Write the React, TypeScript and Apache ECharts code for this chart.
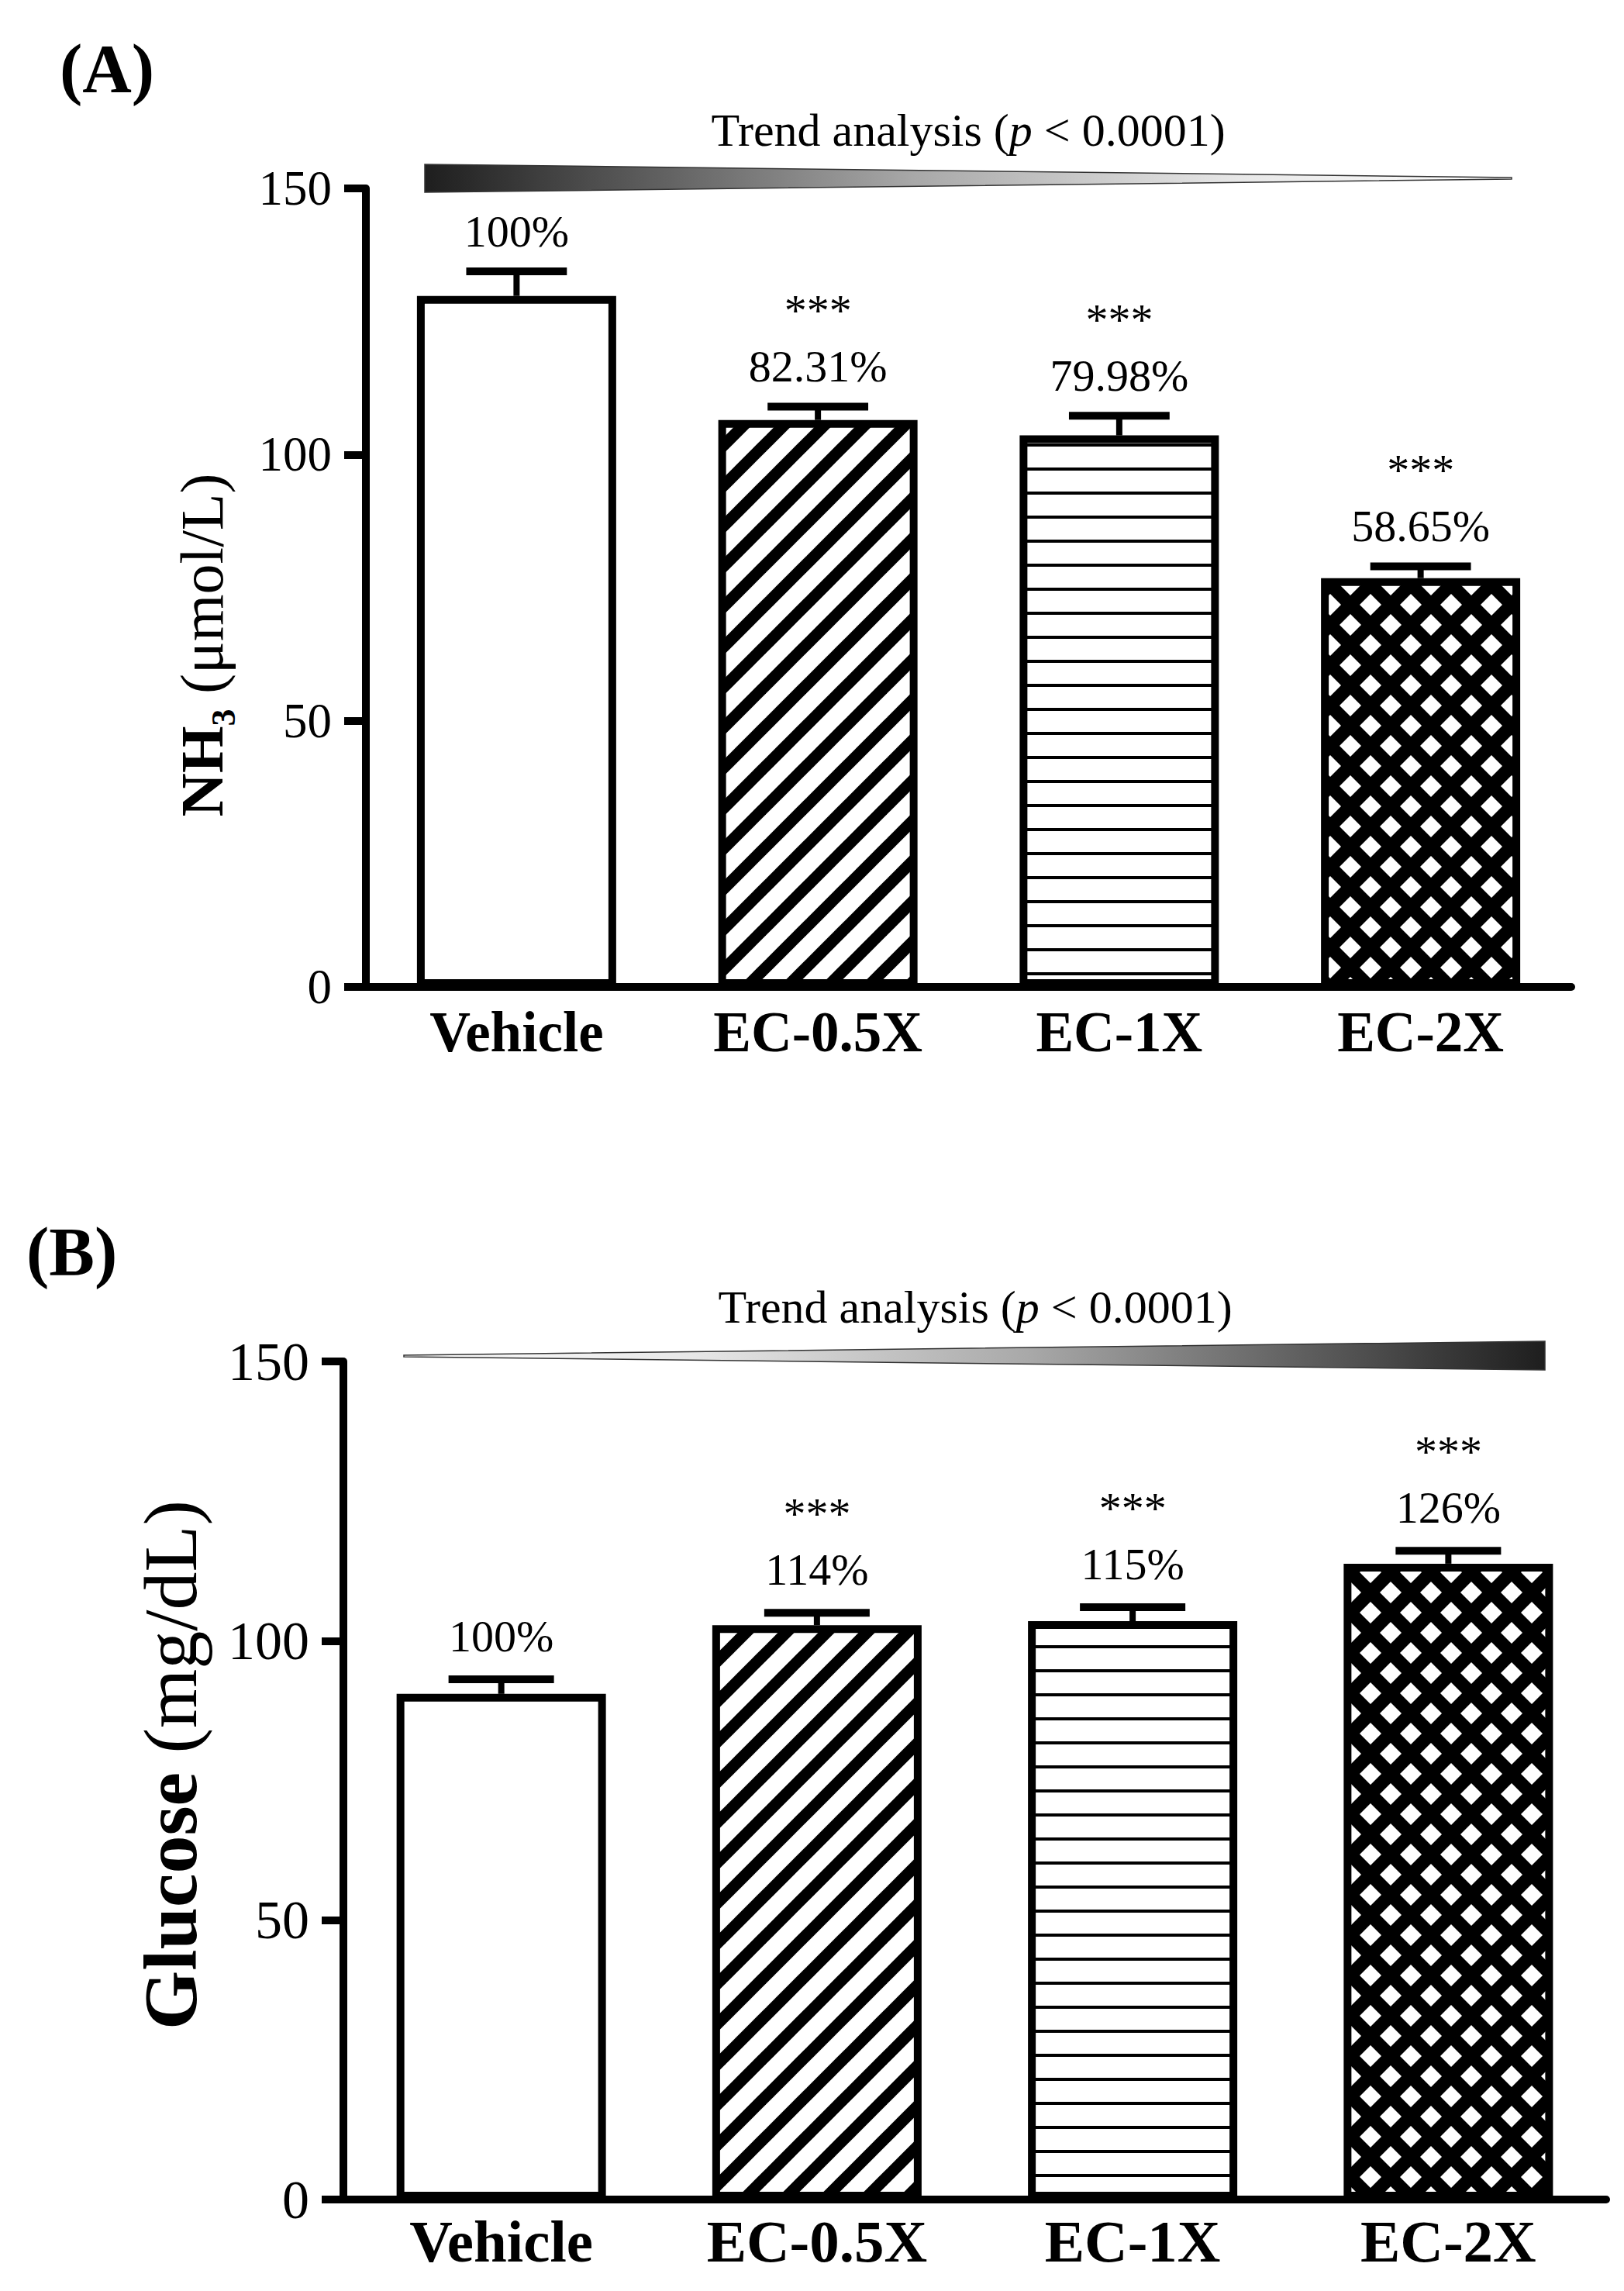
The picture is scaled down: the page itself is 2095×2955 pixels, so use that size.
import React, { useEffect, useRef } from "react";
import * as echarts from "echarts";

const categories = ["Vehicle", "EC-0.5X", "EC-1X", "EC-2X"];

// Panel A: NH3 (umol/L), mean and SEM
const nh3Mean = [129.8, 106.5, 103.6, 76.8];
const nh3Sem = [4.6, 2.5, 3.7, 2.2];
const nh3Percent = ["100%", "82.31%", "79.98%", "58.65%"];

// Panel B: Glucose (mg/dL), mean and SEM
const glucoseMean = [90.5, 102.8, 103.5, 113.8];
const glucoseSem = [2.6, 2.2, 2.5, 2.3];
const glucosePercent = ["100%", "114%", "115%", "126%"];

const significance = ["", "***", "***", "***"];

// y axis: 0..150 step 50
const yMin = 0;
const yMax = 150;
const yStep = 50;

const fontFamily = "'Liberation Serif', 'Times New Roman', serif";

type PatternKind = "none" | "diagonal" | "horizontal" | "lattice";
const barPatterns: PatternKind[] = ["none", "diagonal", "horizontal", "lattice"];

// build a repeating fill for a bar
function makePattern(kind: PatternKind): any {
  if (kind === "none") return "#ffffff";
  const canvas = document.createElement("canvas");
  const ctx = canvas.getContext("2d") as CanvasRenderingContext2D;
  if (kind === "diagonal") {
    canvas.width = 52;
    canvas.height = 52;
    ctx.fillStyle = "#ffffff";
    ctx.fillRect(0, 0, 52, 52);
    ctx.strokeStyle = "#000000";
    ctx.lineWidth = 15;
    [-52, 0, 52].forEach((k) => {
      ctx.beginPath();
      ctx.moveTo(k - 12, 64);
      ctx.lineTo(k + 64, -12);
      ctx.stroke();
    });
  } else if (kind === "horizontal") {
    canvas.width = 8;
    canvas.height = 31;
    ctx.fillStyle = "#ffffff";
    ctx.fillRect(0, 0, 8, 31);
    ctx.fillStyle = "#000000";
    ctx.fillRect(0, 14, 8, 4);
  } else {
    canvas.width = 52;
    canvas.height = 52;
    ctx.fillStyle = "#000000";
    ctx.fillRect(0, 0, 52, 52);
    ctx.fillStyle = "#ffffff";
    const h = 14;
    [
      [26, 26],
      [0, 0],
      [52, 0],
      [0, 52],
      [52, 52],
    ].forEach(([cx, cy]) => {
      ctx.beginPath();
      ctx.moveTo(cx, cy - h);
      ctx.lineTo(cx + h, cy);
      ctx.lineTo(cx, cy + h);
      ctx.lineTo(cx - h, cy);
      ctx.closePath();
      ctx.fill();
    });
  }
  return {
    image: canvas.toDataURL(),
    repeat: "repeat",
    imageWidth: canvas.width,
    imageHeight: canvas.height,
  };
}

interface PanelLayout {
  left: number;
  top: number;
  width: number;
  height: number;
  barWidth: number;
  tickFont: number;
  catFont: number;
  catMargin: number;
  nameGap: number;
  namePadding: number[];
  pctOffset: number;
  name: string;
  rich: any;
}

const panelA: PanelLayout = {
  left: 472,
  top: 243,
  width: 1555,
  height: 1030,
  barWidth: 257,
  tickFont: 63,
  catFont: 73,
  catMargin: 22,
  nameGap: 162,
  namePadding: [0, 148, 0, 0],
  pctOffset: 52,
  name: "{b|NH}{s|3}{r| (μmol/L)}",
  rich: {
    b: { fontSize: 78, fontWeight: "bold", lineHeight: 99, color: "#000", fontFamily },
    s: { fontSize: 44, fontWeight: "bold", lineHeight: 44, verticalAlign: "bottom", color: "#000", fontFamily },
    r: { fontSize: 78, lineHeight: 99, color: "#000", fontFamily },
  },
};

const panelB: PanelLayout = {
  left: 443,
  top: 1756,
  width: 1629,
  height: 1081,
  barWidth: 270,
  tickFont: 70,
  catFont: 77,
  catMargin: 15,
  nameGap: 174,
  namePadding: [0, 0, 0, 40],
  pctOffset: 56,
  name: "{b|Glucose}{r| (mg/dL)}",
  rich: {
    b: { fontSize: 98, fontWeight: "bold", lineHeight: 98, color: "#000", fontFamily },
    r: { fontSize: 98, lineHeight: 98, color: "#000", fontFamily },
  },
};

const App: React.FC = () => {
  const chartRef = useRef<HTMLDivElement>(null);

  useEffect(() => {
    document.body.style.margin = "0";
    const chartDom = chartRef.current;
    if (!chartDom) return;

    const myChart = echarts.init(chartDom, undefined, { renderer: "svg" });
    const fills = barPatterns.map((k) => makePattern(k));

    const panels = [
      { layout: panelA, mean: nh3Mean, sem: nh3Sem, percent: nh3Percent },
      { layout: panelB, mean: glucoseMean, sem: glucoseSem, percent: glucosePercent },
    ];

    const grids = panels.map((p) => ({
      left: p.layout.left,
      top: p.layout.top,
      width: p.layout.width,
      height: p.layout.height,
      containLabel: false,
    }));

    const xAxes = panels.map((p, idx) => ({
      type: "category",
      gridIndex: idx,
      data: categories,
      axisLine: { lineStyle: { color: "#000", width: 10 } },
      axisTick: { show: false },
      axisLabel: {
        interval: 0,
        fontSize: p.layout.catFont,
        lineHeight: p.layout.catFont,
        fontWeight: "bold",
        fontFamily,
        color: "#000",
        margin: p.layout.catMargin,
      },
    }));

    const yAxes = panels.map((p, idx) => ({
      type: "value",
      gridIndex: idx,
      min: yMin,
      max: yMax,
      interval: yStep,
      name: p.layout.name,
      nameLocation: "middle",
      nameRotate: 90,
      nameGap: p.layout.nameGap,
      nameTextStyle: { rich: p.layout.rich, padding: p.layout.namePadding },
      axisLine: { show: true, lineStyle: { color: "#000", width: 10 } },
      axisTick: { show: true, length: 28, lineStyle: { color: "#000", width: 10 } },
      axisLabel: { fontSize: p.layout.tickFont, fontFamily, color: "#000", margin: 44 },
      splitLine: { show: false },
    }));

    const series: any[] = [];
    panels.forEach((p, idx) => {
      series.push({
        type: "bar",
        xAxisIndex: idx,
        yAxisIndex: idx,
        barWidth: p.layout.barWidth,
        z: 2,
        itemStyle: { borderColor: "#000", borderWidth: 10 },
        data: p.mean.map((v, i) => ({ value: v, itemStyle: { color: fills[i] } })),
      });
      // error bars + annotations
      series.push({
        type: "custom",
        xAxisIndex: idx,
        yAxisIndex: idx,
        z: 5,
        encode: { x: 0, y: 1 },
        data: p.mean.map((m, i) => [i, m, p.sem[i]]),
        renderItem: (params: any, api: any) => {
          const i = api.value(0) as number;
          const m = api.value(1) as number;
          const s = api.value(2) as number;
          const base = api.coord([i, m]);
          const top = api.coord([i, m + s]);
          const band = api.size([1, 0])[0];
          const half = band * 0.167;
          const pctY = top[1] - p.layout.pctOffset;
          const children: any[] = [
            {
              type: "line",
              shape: { x1: top[0], y1: base[1], x2: top[0], y2: top[1] },
              style: { stroke: "#000", lineWidth: 8 },
            },
            {
              type: "line",
              shape: { x1: top[0] - half, y1: top[1], x2: top[0] + half, y2: top[1] },
              style: { stroke: "#000", lineWidth: 10 },
            },
            {
              type: "text",
              style: {
                text: p.percent[i],
                x: top[0],
                y: pctY,
                align: "center",
                verticalAlign: "middle",
                fontSize: 58,
                fontFamily,
                fill: "#000",
              },
            },
          ];
          if (significance[i]) {
            children.push({
              type: "text",
              style: {
                text: significance[i],
                x: top[0],
                y: pctY - 72,
                align: "center",
                verticalAlign: "middle",
                fontSize: 58,
                fontFamily,
                fill: "#000",
              },
            });
          }
          return { type: "group", children };
        },
      });
    });

    const trendRich = {
      n: { fontSize: 60, fontFamily, color: "#000" },
      i: { fontSize: 60, fontFamily, fontStyle: "italic", color: "#000" },
    };

    const option: any = {
      animation: false,
      backgroundColor: "#ffffff",
      textStyle: { fontFamily },
      grid: grids,
      xAxis: xAxes,
      yAxis: yAxes,
      series,
      graphic: [
        {
          type: "text",
          x: 77,
          y: 88,
          style: { text: "(A)", fontSize: 88, fontWeight: "bold", fontFamily, fill: "#000", align: "left", verticalAlign: "middle" },
        },
        {
          type: "text",
          x: 34,
          y: 1614,
          style: { text: "(B)", fontSize: 88, fontWeight: "bold", fontFamily, fill: "#000", align: "left", verticalAlign: "middle" },
        },
        {
          type: "text",
          x: 1249,
          y: 168,
          style: { text: "{n|Trend analysis (}{i|p}{n| < 0.0001)}", rich: trendRich, align: "center", verticalAlign: "middle" },
        },
        {
          type: "text",
          x: 1258,
          y: 1686,
          style: { text: "{n|Trend analysis (}{i|p}{n| < 0.0001)}", rich: trendRich, align: "center", verticalAlign: "middle" },
        },
        {
          type: "polygon",
          shape: { points: [[548, 212], [1950, 229], [1950, 231], [548, 248]] },
          style: {
            fill: new echarts.graphic.LinearGradient(0, 0, 1, 0, [
              { offset: 0, color: "#1e1e1e" },
              { offset: 0.45, color: "#a8a8a8" },
              { offset: 0.75, color: "#e8e8e8" },
              { offset: 1, color: "#ffffff" },
            ]),
            stroke: "#333",
            lineWidth: 1.5,
          },
        },
        {
          type: "polygon",
          shape: { points: [[521, 1748], [1993, 1730], [1993, 1767], [521, 1750]] },
          style: {
            fill: new echarts.graphic.LinearGradient(0, 0, 1, 0, [
              { offset: 0, color: "#ffffff" },
              { offset: 0.25, color: "#e8e8e8" },
              { offset: 0.55, color: "#a8a8a8" },
              { offset: 1, color: "#1e1e1e" },
            ]),
            stroke: "#333",
            lineWidth: 1.5,
          },
        },
      ],
    };

    myChart.setOption(option);

    const handleResize = (): void => {
      myChart.resize();
    };
    window.addEventListener("resize", handleResize);

    return () => {
      window.removeEventListener("resize", handleResize);
      myChart.dispose();
    };
  }, []);

  return <div ref={chartRef} style={{ width: "2095px", height: "2955px" }} />;
};

export default App;
